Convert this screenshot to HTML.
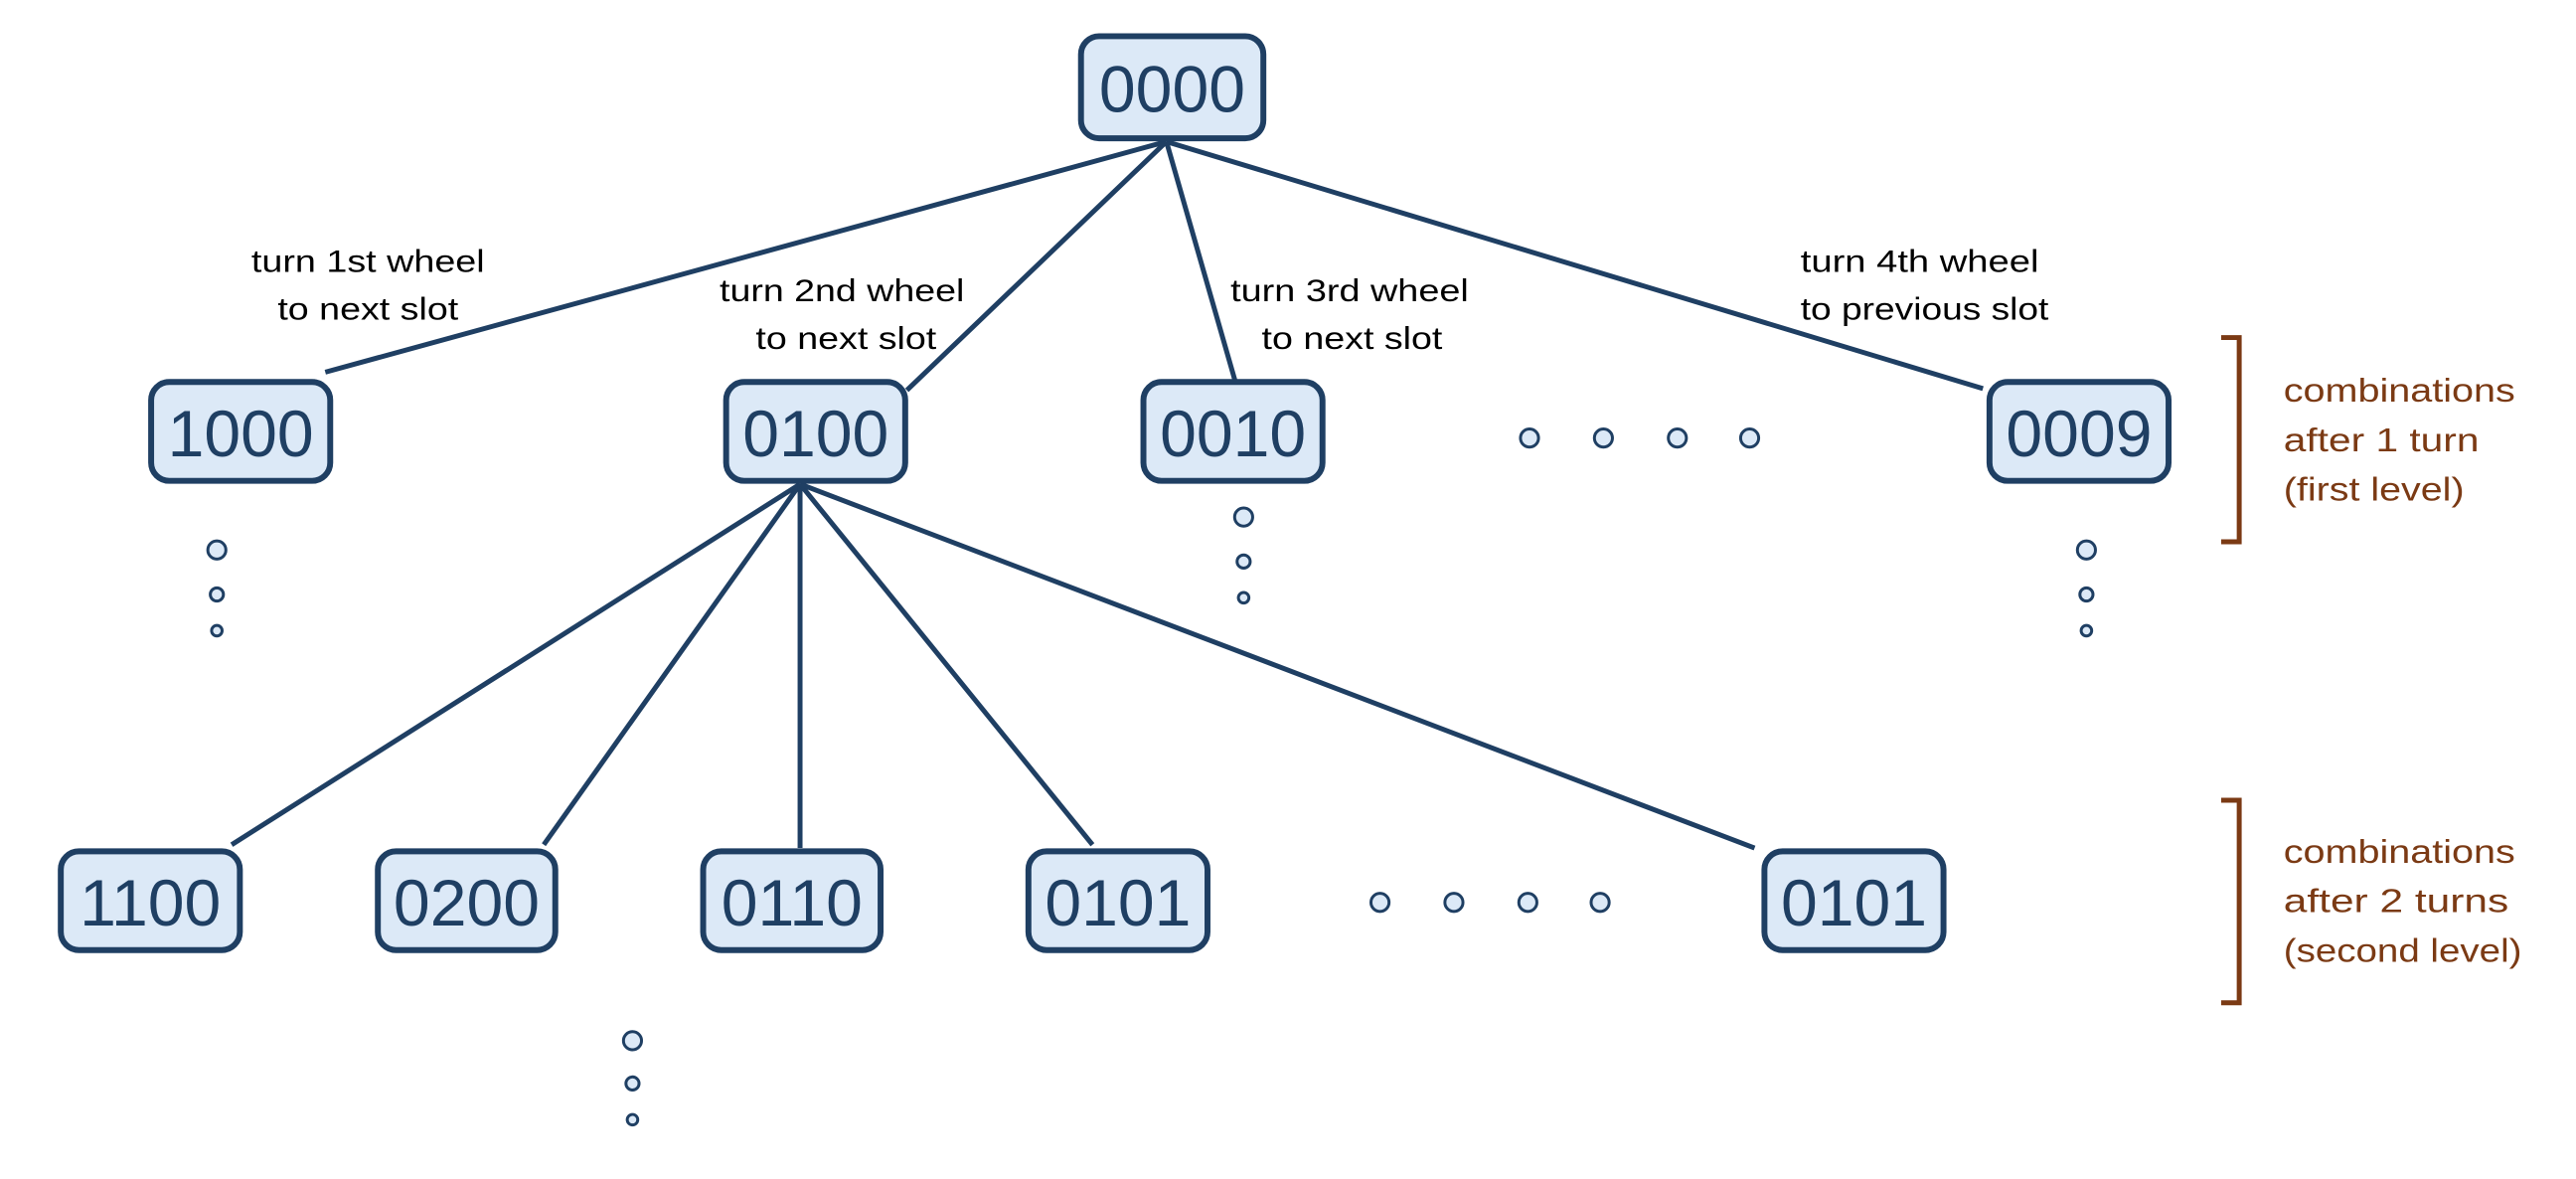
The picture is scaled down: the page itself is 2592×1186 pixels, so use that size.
<!DOCTYPE html>
<html><head><meta charset="utf-8"><style>
html,body{margin:0;padding:0;background:#fff;width:2592px;height:1186px;overflow:hidden}
svg{display:block}
.n rect{fill:#dce9f7;stroke:#1f3f63;stroke-width:3.6}
.n text{font-family:"Liberation Sans",sans-serif;font-size:40px;fill:#1f3f63;text-anchor:middle}
.l{font-family:"Liberation Sans",sans-serif;font-size:19px;fill:#000}
.b{font-family:"Liberation Sans",sans-serif;font-size:20px;fill:#7b3a14}
.e{stroke:#1f3f63;stroke-width:3;fill:none}
.d{fill:#dce9f7;stroke:#1f3f63;stroke-width:1.8}
</style></head><body>
<svg width="2592" height="1186" viewBox="0 0 1568 716" preserveAspectRatio="none" xmlns="http://www.w3.org/2000/svg">
<g class="e">
<line x1="710" y1="86" x2="198" y2="226"/>
<line x1="710" y1="86" x2="552" y2="237"/>
<line x1="710" y1="86" x2="752" y2="232"/>
<line x1="710" y1="86" x2="1207" y2="236"/>
<line x1="487" y1="294" x2="141" y2="513"/>
<line x1="487" y1="294" x2="331" y2="513"/>
<line x1="487" y1="294" x2="487" y2="515"/>
<line x1="487" y1="294" x2="665" y2="513"/>
<line x1="487" y1="294" x2="1068" y2="515"/>
</g>
<g class="n">
<rect x="658" y="22" width="111" height="62" rx="11"/><text x="713.5" y="68">0000</text>
<rect x="92" y="232" width="109" height="60" rx="11"/><text x="146.5" y="277">1000</text>
<rect x="442" y="232" width="109" height="60" rx="11"/><text x="496.5" y="277">0100</text>
<rect x="696" y="232" width="109" height="60" rx="11"/><text x="750.5" y="277">0010</text>
<rect x="1211" y="232" width="109" height="60" rx="11"/><text x="1265.5" y="277">0009</text>
<rect x="37" y="517" width="109" height="60" rx="11"/><text x="91.5" y="562">1100</text>
<rect x="230" y="517" width="108" height="60" rx="11"/><text x="284" y="562">0200</text>
<rect x="428" y="517" width="108" height="60" rx="11"/><text x="482" y="562">0110</text>
<rect x="626" y="517" width="109" height="60" rx="11"/><text x="680.5" y="562">0101</text>
<rect x="1074" y="517" width="109" height="60" rx="11"/><text x="1128.5" y="562">0101</text>
</g>
<g class="d">
<circle cx="931" cy="266" r="5.5"/><circle cx="976" cy="266" r="5.5"/><circle cx="1021" cy="266" r="5.5"/><circle cx="1065" cy="266" r="5.5"/>
<circle cx="840" cy="548" r="5.5"/><circle cx="885" cy="548" r="5.5"/><circle cx="930" cy="548" r="5.5"/><circle cx="974" cy="548" r="5.5"/>
<circle cx="132" cy="334" r="5.5"/><circle cx="132" cy="361" r="4"/><circle cx="132" cy="383" r="3.2"/>
<circle cx="757" cy="314" r="5.5"/><circle cx="757" cy="341" r="4"/><circle cx="757" cy="363" r="3.2"/>
<circle cx="1270" cy="334" r="5.5"/><circle cx="1270" cy="361" r="4"/><circle cx="1270" cy="383" r="3.2"/>
<circle cx="385" cy="632" r="5.5"/><circle cx="385" cy="658" r="4"/><circle cx="385" cy="680" r="3.2"/>
</g>
<g class="l">
<text x="153" y="165" textLength="142" lengthAdjust="spacingAndGlyphs">turn 1st wheel</text>
<text x="169" y="194" textLength="110" lengthAdjust="spacingAndGlyphs">to next slot</text>
<text x="438" y="183" textLength="149" lengthAdjust="spacingAndGlyphs">turn 2nd wheel</text>
<text x="460" y="212" textLength="110" lengthAdjust="spacingAndGlyphs">to next slot</text>
<text x="749" y="183" textLength="145" lengthAdjust="spacingAndGlyphs">turn 3rd wheel</text>
<text x="768" y="212" textLength="110" lengthAdjust="spacingAndGlyphs">to next slot</text>
<text x="1096" y="165" textLength="145" lengthAdjust="spacingAndGlyphs">turn 4th wheel</text>
<text x="1096" y="194" textLength="151" lengthAdjust="spacingAndGlyphs">to previous slot</text>
</g>
<g fill="none" stroke="#7b3a14" stroke-width="3">
<polyline points="1352,205 1363,205 1363,329 1352,329"/>
<polyline points="1352,486 1363,486 1363,609 1352,609"/>
</g>
<g class="b">
<text x="1390" y="244" textLength="141" lengthAdjust="spacingAndGlyphs">combinations</text>
<text x="1390" y="274" textLength="119" lengthAdjust="spacingAndGlyphs">after 1 turn</text>
<text x="1390" y="304" textLength="110" lengthAdjust="spacingAndGlyphs">(first level)</text>
<text x="1390" y="524" textLength="141" lengthAdjust="spacingAndGlyphs">combinations</text>
<text x="1390" y="554" textLength="137" lengthAdjust="spacingAndGlyphs">after 2 turns</text>
<text x="1390" y="584" textLength="145" lengthAdjust="spacingAndGlyphs">(second level)</text>
</g>
</svg>
</body></html>
